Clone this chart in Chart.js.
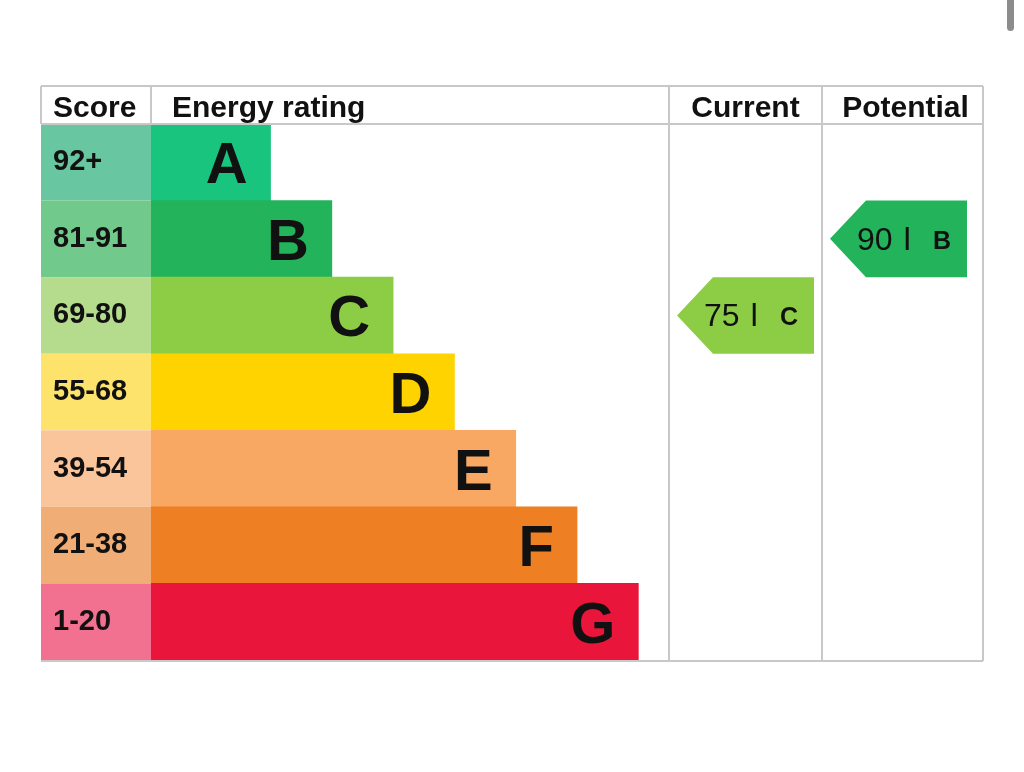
<!DOCTYPE html>
<html>
<head>
<meta charset="utf-8">
<script src="https://cdn.jsdelivr.net/npm/chart.js@4/dist/chart.umd.min.js"></script>
<style>
    html, body { margin: 0; padding: 0; background: #fff; }
    #wrap { position: relative; width: 1024px; height: 772px; }
    #scroll { position: absolute; left: 1007px; top: 0; width: 7px; height: 31px; background: #8c8c8c; border-radius: 0 0 4px 4px; }
</style>
</head>
<body>
<div id="wrap">
    <canvas id="epcChart"></canvas>
    <div id="scroll"></div>
</div>
<script>
// EPC bands
const ratings = ['A', 'B', 'C', 'D', 'E', 'F', 'G'];
const scoreLabels = ['92+', '81-91', '69-80', '55-68', '39-54', '21-38', '1-20'];
const bandMins = [92, 81, 69, 55, 39, 21, 1];
const barLengths = [2, 3, 4, 5, 6, 7, 8];
const barColours = ['#19c47e', '#22b35b', '#8dcd46', '#fed300', '#f8a863', '#ee7f22', '#e9153b'];
const scoreColours = ['#68c7a0', '#71c98b', '#b5dc8c', '#fde26b', '#fbc59b', '#f1ad76', '#f27191'];
const headers = ['Score', 'Energy rating', 'Current', 'Potential'];
const currentScore = 75;
const potentialScore = 90;

const FONT = '"Liberation Sans", Arial, sans-serif';
const LINE = '#c8c8c8';

function bandFor(score) {
    for (let i = 0; i < bandMins.length; i++) {
        if (score >= bandMins[i]) return i;
    }
    return bandMins.length - 1;
}

const tablePlugin = {
    id: 'epcTable',
    beforeDatasetsDraw(chart) {
        const ctx = chart.ctx;
        const y = chart.scales.y;
        const area = chart.chartArea;
        const bandH = (area.bottom - area.top) / ratings.length;
        const left = 41;
        ctx.save();
        ratings.forEach((r, i) => {
            const cy = y.getPixelForValue(i);
            ctx.fillStyle = scoreColours[i];
            ctx.fillRect(left, cy - bandH / 2, area.left - left, bandH);
            ctx.fillStyle = '#111';
            ctx.font = 'bold 29px ' + FONT;
            ctx.textAlign = 'left';
            ctx.textBaseline = 'alphabetic';
            ctx.fillText(scoreLabels[i], 53, cy + 8);
        });
        ctx.restore();
    },
    afterDatasetsDraw(chart) {
        const ctx = chart.ctx;
        const y = chart.scales.y;
        const area = chart.chartArea;
        const bandH = (area.bottom - area.top) / ratings.length;
        const meta = chart.getDatasetMeta(0);
        const left = 41, right = 983, top = 86;
        const curLeft = area.right, potLeft = 822;

        ctx.save();
        // band letters
        ctx.fillStyle = '#111';
        ctx.font = 'bold 58px ' + FONT;
        ctx.textAlign = 'right';
        ctx.textBaseline = 'alphabetic';
        meta.data.forEach((bar, i) => {
            ctx.fillText(ratings[i], bar.x - 23, bar.y + 21);
        });

        // grid
        ctx.strokeStyle = LINE;
        ctx.lineWidth = 2;
        ctx.beginPath();
        ctx.moveTo(left, top); ctx.lineTo(right, top);
        ctx.moveTo(left, area.top); ctx.lineTo(right, area.top);
        ctx.moveTo(left, area.bottom + 1); ctx.lineTo(right, area.bottom + 1);
        ctx.moveTo(left, top); ctx.lineTo(left, area.top);
        ctx.moveTo(area.left, top); ctx.lineTo(area.left, area.top);
        ctx.moveTo(curLeft, top); ctx.lineTo(curLeft, area.bottom + 1);
        ctx.moveTo(potLeft, top); ctx.lineTo(potLeft, area.bottom + 1);
        ctx.moveTo(right, top); ctx.lineTo(right, area.bottom + 1);
        ctx.stroke();

        // headers
        ctx.fillStyle = '#111';
        ctx.font = 'bold 30px ' + FONT;
        ctx.textAlign = 'left';
        ctx.fillText(headers[0], 53, 117);
        ctx.fillText(headers[1], 172, 117);
        ctx.textAlign = 'center';
        ctx.fillText(headers[2], (curLeft + potLeft) / 2, 117);
        ctx.fillText(headers[3], (potLeft + right) / 2 + 3, 117);

        // arrows
        const drawArrow = (score, colLeft) => {
            const i = bandFor(score);
            const cy = y.getPixelForValue(i);
            const t = cy - bandH / 2, b = cy + bandH / 2;
            const x0 = colLeft + 8, x1 = x0 + 36, x2 = x0 + 137;
            ctx.fillStyle = barColours[i];
            ctx.beginPath();
            ctx.moveTo(x0, cy);
            ctx.lineTo(x1, t);
            ctx.lineTo(x2, t);
            ctx.lineTo(x2, b);
            ctx.lineTo(x1, b);
            ctx.closePath();
            ctx.fill();
            ctx.fillStyle = '#111';
            ctx.textAlign = 'left';
            ctx.font = '32px ' + FONT;
            ctx.fillText(String(score), x0 + 27, cy + 11);
            ctx.font = 'bold 23px ' + FONT;
            ctx.fillText('|', x0 + 74, cy + 6);
            ctx.textAlign = 'center';
            ctx.font = 'bold 25px ' + FONT;
            ctx.fillText(ratings[i], x0 + 112, cy + 10);
        };
        drawArrow(currentScore, curLeft);
        drawArrow(potentialScore, potLeft);
        ctx.restore();
    }
};

const epcCtx = document.getElementById('epcChart').getContext('2d');
new Chart(epcCtx, {
    type: 'bar',
    data: {
        labels: ratings,
        datasets: [{
            data: barLengths,
            backgroundColor: barColours,
            borderWidth: 0,
            categoryPercentage: 1,
            barPercentage: 1
        }]
    },
    options: {
        indexAxis: 'y',
        responsive: true,
        maintainAspectRatio: false,
        animation: false,
        layout: {
            padding: { left: 151, right: 355, top: 124, bottom: 112 }
        },
        plugins: {
            legend: { display: false },
            tooltip: { enabled: false }
        },
        scales: {
            x: { display: false, min: 0.05, max: 8.5 },
            y: { display: false }
        }
    },
    plugins: [tablePlugin]
});
</script>
</body>
</html>
